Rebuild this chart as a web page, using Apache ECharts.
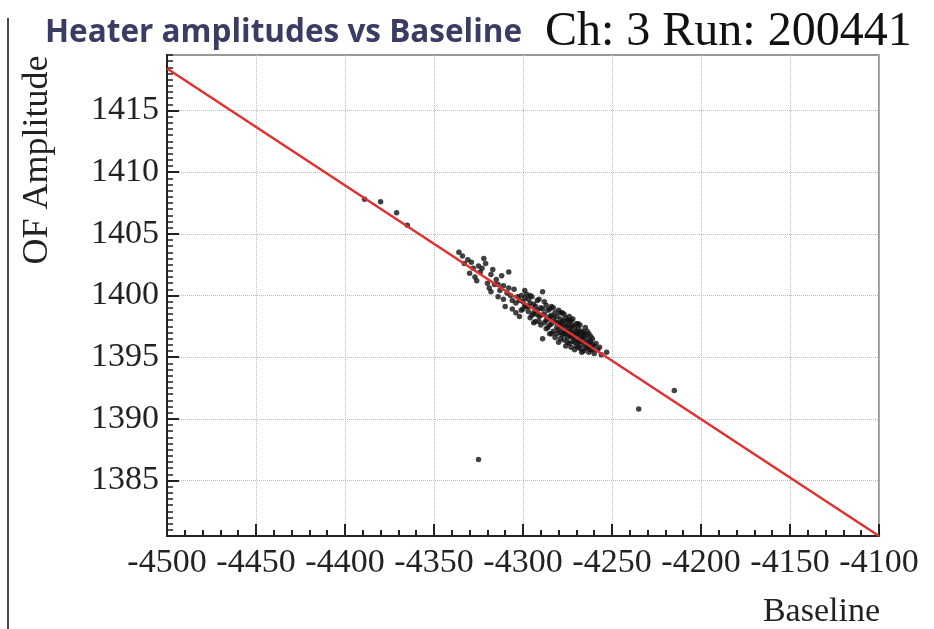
<!DOCTYPE html>
<html><head><meta charset="utf-8">
<script src="https://cdn.jsdelivr.net/npm/echarts@6/dist/echarts.min.js"></script>
<style>html,body{margin:0;padding:0;background:#fff}#c{width:934px;height:629px}</style>
</head><body><div id="c"></div>
<script>
var titleLeft = 'Heater amplitudes vs Baseline';
var titleRight = 'Ch: 3 Run: 200441';
var xName = 'Baseline';
var yName = 'OF Amplitude';
var xMin = -4500, xMax = -4100, xStep = 50;
var yMin = 1380.5, yMax = 1419.5, yMinorStep = 0.5;
var yTickValues = [1385, 1390, 1395, 1400, 1405, 1410, 1415];
var fitLine = [[-4500, 1418.4], [-4100, 1380.5]];
var outliers = [
  [-4389, 1407.8], [-4380, 1407.6], [-4371, 1406.7], [-4365, 1405.7],
  [-4325, 1386.7], [-4235, 1390.8], [-4215, 1392.3]
];
var cluster = [
  [-4336,1403.5],[-4334,1403.2],[-4333,1402.6],[-4331,1402.9],[-4330,1401.8],[-4328,1402.2],[-4327,1401.5],
  [-4325,1402.4],[-4324,1401.9],[-4322,1403.0],[-4321,1402.6],[-4320,1401.0],[-4319,1400.6],[-4318,1401.7],
  [-4317,1402.1],[-4316,1400.9],[-4315,1401.3],[-4314,1399.9],[-4313,1400.4],[-4312,1401.6],[-4311,1400.8],
  [-4310,1399.1],[-4309,1400.2],[-4308,1401.9],[-4307,1400.0],[-4306,1399.6],[-4305,1400.5],[-4304,1398.6],
  [-4303,1399.9],[-4302,1398.3],[-4301,1400.0],[-4300,1399.5],[-4300,1398.9],[-4299,1399.8],[-4298,1399.1],
  [-4298,1400.1],[-4297,1398.7],[-4296,1399.4],[-4296,1398.2],[-4295,1399.9],[-4294,1398.6],[-4294,1399.3],
  [-4293,1397.9],[-4292,1398.8],[-4292,1399.6],[-4291,1398.3],[-4290,1397.6],[-4290,1399.0],[-4289,1400.3],
  [-4289,1396.5],[-4288,1398.5],[-4288,1397.8],[-4287,1399.2],[-4286,1397.4],[-4286,1398.1],[-4285,1398.9],
  [-4285,1396.9],[-4284,1397.7],[-4284,1398.4],[-4283,1397.1],[-4283,1399.0],[-4282,1397.9],[-4282,1396.6],
  [-4281,1398.3],[-4281,1397.4],[-4280,1398.8],[-4280,1396.2],[-4280,1397.7],[-4279,1397.0],[-4279,1398.1],
  [-4278,1396.8],[-4278,1397.5],[-4278,1398.6],[-4277,1396.4],[-4277,1397.9],[-4277,1397.2],[-4276,1398.2],
  [-4276,1396.9],[-4276,1395.9],[-4275,1397.6],[-4275,1396.6],[-4275,1398.0],[-4274,1397.3],[-4274,1396.1],
  [-4274,1397.9],[-4273,1396.7],[-4273,1397.5],[-4273,1395.8],[-4272,1397.0],[-4272,1396.3],[-4272,1398.1],
  [-4271,1396.8],[-4271,1395.6],[-4271,1397.4],[-4270,1396.5],[-4270,1397.7],[-4270,1395.9],[-4269,1396.9],
  [-4269,1396.2],[-4269,1397.3],[-4268,1395.7],[-4268,1396.6],[-4268,1397.6],[-4267,1396.0],[-4267,1397.1],
  [-4266,1396.4],[-4266,1395.5],[-4266,1397.0],[-4265,1396.1],[-4265,1396.8],[-4264,1395.8],[-4264,1396.5],
  [-4263,1395.4],[-4263,1396.2],[-4262,1396.7],[-4262,1395.6],[-4261,1396.0],[-4260,1395.3],[-4260,1395.9],
  [-4258,1395.6],[-4256,1395.2],[-4253,1395.4],
  [-4299,1400.4],[-4297,1399.7],[-4295,1398.4],[-4293,1399.1],[-4291,1399.7],[-4287,1398.0],[-4286,1398.8],
  [-4284,1396.9],[-4283,1398.2],[-4281,1396.9],[-4279,1397.6],[-4277,1398.5],[-4275,1397.1],[-4273,1398.0],
  [-4272,1396.6],[-4270,1397.1],[-4268,1397.0],[-4267,1395.4],[-4265,1397.4],[-4263,1396.9],[-4261,1396.5],
  [-4329,1402.7],[-4326,1401.2],[-4323,1402.2],[-4318,1400.3],[-4314,1400.9],[-4311,1399.7],[-4308,1400.6],
  [-4306,1398.9],[-4304,1399.4],[-4302,1399.6],[-4301,1398.8],[-4299,1399.2],[-4297,1399.1],[-4296,1400.0],
  [-4294,1397.8],[-4293,1398.5],[-4291,1397.9],[-4290,1398.4],[-4289,1398.9],[-4288,1399.5],[-4287,1397.3],
  [-4285,1397.6],[-4285,1398.3],[-4284,1399.1],[-4282,1398.6],[-4281,1397.8],[-4280,1397.2],[-4279,1396.5],
  [-4279,1398.6],[-4278,1397.9],[-4277,1396.9],[-4276,1397.5],[-4275,1396.2],[-4274,1396.8],[-4274,1398.3],
  [-4273,1397.1],[-4272,1397.6],[-4271,1396.2],[-4270,1396.9],[-4269,1395.8],[-4269,1397.7],[-4268,1396.3],
  [-4267,1396.6],[-4266,1396.8],[-4265,1395.7],[-4264,1397.1],[-4263,1395.9],[-4262,1396.3],[-4261,1395.6],
  [-4259,1396.1],[-4257,1395.8]
];
var serif = '"Liberation Serif","DejaVu Serif",serif';
var chart = echarts.init(document.getElementById('c'), null, {renderer: 'canvas'});
chart.setOption({
  animation: false,
  backgroundColor: '#fff',
  title: [
    {text: titleLeft, left: 40, top: 12, textStyle: {fontFamily: '"Open Sans","Noto Sans",sans-serif', fontWeight: 'bold', fontSize: 31.5, color: '#3b3c64'}},
    {text: titleRight, left: 540, top: 3, textStyle: {fontFamily: serif, fontWeight: 'normal', fontSize: 48, color: '#111'}}
  ],
  grid: {left: 167, top: 55, width: 712, height: 481, show: true, borderColor: '#999', borderWidth: 2, containLabel: false},
  xAxis: {
    type: 'value', min: xMin, max: xMax, interval: xStep,
    axisLine: {show: true, onZero: false, lineStyle: {color: '#222', width: 2}},
    axisTick: {show: true, inside: true, length: 12, lineStyle: {color: '#222', width: 2}},
    minorTick: {show: true, splitNumber: 5, length: 6, lineStyle: {color: '#222', width: 2}},
    splitLine: {show: true, lineStyle: {color: '#bbb', type: 'dotted', width: 1}},
    axisLabel: {fontFamily: serif, fontSize: 34, color: '#222', margin: 10, formatter: function (v) { return String(v); }}
  },
  yAxis: [{
    type: 'value', min: yMin, max: yMax,
    axisLine: {show: true, onZero: false, lineStyle: {color: '#222', width: 2}},
    axisTick: {show: true, inside: true, length: 12, lineStyle: {color: '#222', width: 2}, customValues: yTickValues},
    splitLine: {show: true, lineStyle: {color: '#bbb', type: 'dotted', width: 1}},
    axisLabel: {fontFamily: serif, fontSize: 34, color: '#222', margin: 8, customValues: yTickValues, formatter: function (v) { return String(v); }}
  }, {
    type: 'value', min: yMin, max: yMax, interval: yMinorStep, position: 'left',
    axisLine: {show: false},
    axisTick: {show: true, inside: true, length: 6, lineStyle: {color: '#222', width: 1.5}},
    splitLine: {show: false},
    axisLabel: {show: false}
  }],
  graphic: [
    {type: 'line', shape: {x1: 8, y1: 18, x2: 8, y2: 629}, style: {stroke: '#111', lineWidth: 1.5}},
    {type: 'text', x: 38, y: 160, rotation: Math.PI / 2, style: {text: yName, fontFamily: serif, fontSize: 36, fill: '#222', align: 'center', verticalAlign: 'middle'}},
    {type: 'text', x: 880, y: 612, style: {text: xName, fontFamily: serif, fontSize: 34, fill: '#222', align: 'right', verticalAlign: 'middle'}}
  ],
  series: [
    {type: 'scatter', data: cluster, symbolSize: 5.5, itemStyle: {color: '#111'}, z: 3},
    {type: 'scatter', data: outliers, symbolSize: 5.5, itemStyle: {color: '#111'}, z: 3},
    {type: 'line', data: fitLine, symbol: 'none', lineStyle: {color: '#e03030', width: 2.5}, z: 4}
  ]
});
</script></body></html>
